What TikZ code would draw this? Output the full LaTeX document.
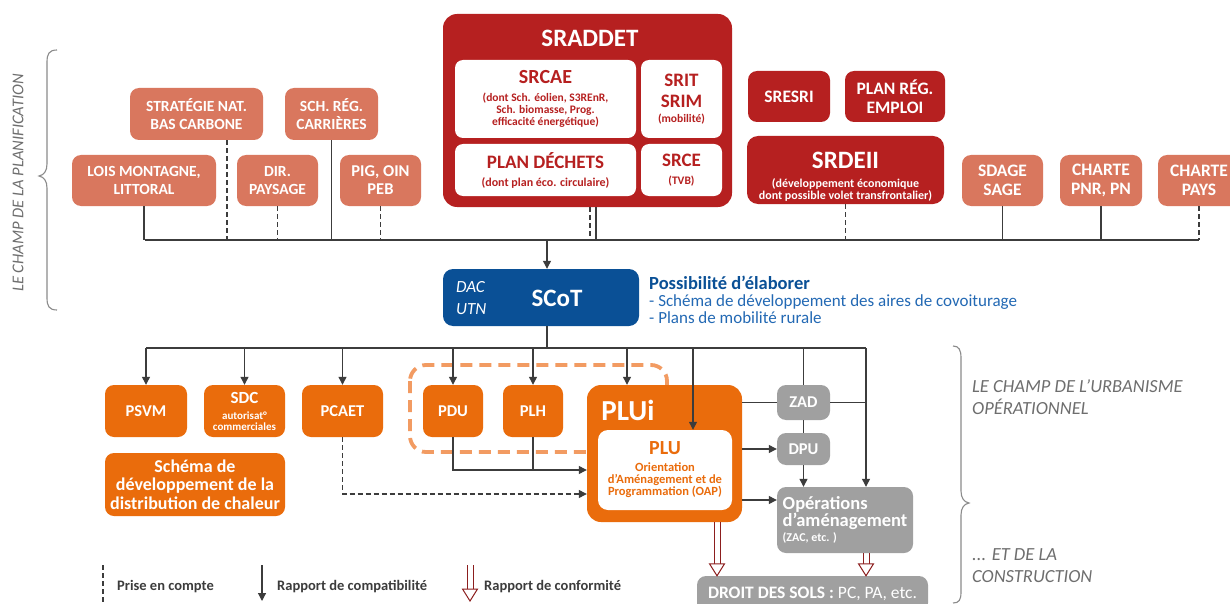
\documentclass[tikz,border=0pt]{standalone}
\usepackage{fontspec}
\setmainfont{Carlito}
\usetikzlibrary{arrows.meta,calc}
\definecolor{salmon}{RGB}{217,119,94}
\definecolor{dred}{RGB}{182,32,32}
\definecolor{sblue}{RGB}{10,80,150}
\definecolor{lblue}{RGB}{35,105,180}
\definecolor{orng}{RGB}{234,108,12}
\definecolor{lorng}{RGB}{242,155,98}
\definecolor{grayfill}{RGB}{160,160,160}
\definecolor{lnc}{RGB}{60,60,60}
\definecolor{confc}{RGB}{140,30,30}
\definecolor{txtg}{RGB}{110,110,110}
\newcommand\fs[2]{\fontsize{#1}{#2}\selectfont\lineskiplimit=-60pt\relax}
\newcommand\confarr[2]{%
  \draw[confline] ($(#1)+(-3,0)$) -- ($(#2)+(-3,-12)$) ($(#1)+(3,0)$) -- ($(#2)+(3,-12)$);
  \draw[confline, fill=white] ($(#2)+(-7.5,-12)$) -- (#2) -- ($(#2)+(7.5,-12)$) -- cycle;}
\tikzset{
  box/.style={rounded corners=9, inner sep=0, align=center, text=white, font=\bfseries},
  salbox/.style={box, fill=salmon, font={\bfseries\fs{15.5}{17.5}}},
  salboxb/.style={box, fill=salmon, font={\bfseries\fs{17.5}{19}}},
  redbox/.style={box, fill=dred},
  wbox/.style={box, fill=white, text=dred, rounded corners=8},
  orbox/.style={box, fill=orng, font={\bfseries\fs{16.5}{18}}},
  grbox/.style={box, fill=grayfill, font={\bfseries\fs{16.5}{18}}},
  ln/.style={draw=lnc, line width=1.2},
  dln/.style={ln, dash pattern=on 5pt off 3pt},
  arr/.style={ln, -{Triangle[length=8pt,width=8pt]}},
  darr/.style={arr, dash pattern=on 5pt off 3pt},
  confline/.style={draw=confc, line width=1},
  sidetxt/.style={text=txtg, font={\itshape\fs{18.5}{22}}, align=left, inner sep=0},
  legtxt/.style={text=lnc, font={\bfseries\fs{14.5}{16}}, anchor=west, inner sep=0},
}
\begin{document}
\begin{tikzpicture}[x=1pt,y=-1pt]
\useasboundingbox (0,0) rectangle (1230,604);
\clip (0,0) rectangle (1230,604);
\fill[white] (0,0) rectangle (1230,604);

% left brace and label
\draw[draw=txtg!80, line width=1.1] (57,50) .. controls (49,50) and (47,54) .. (47,62) -- (47,164)
  .. controls (47,171) and (44,175) .. (39,176) .. controls (44,177) and (47,181) .. (47,188)
  -- (47,298) .. controls (47,306) and (49,310) .. (57,310);
\node[sidetxt, rotate=90, font={\itshape\fs{16.5}{18}}] (lblplan) at (18,183) {LE CHAMP DE LA PLANIFICATION};

% top salmon boxes
\node[salbox, minimum width=133, minimum height=52] (snbc) at (196.5,114) {STRATÉGIE NAT.\\BAS CARBONE};
\node[salbox, minimum width=93, minimum height=52] (carr) at (331.5,114) {SCH. RÉG.\\CARRIÈRES};
\node[salbox, minimum width=144, minimum height=51] (lois) at (144,180.5) {LOIS MONTAGNE,\\LITTORAL};
\node[salbox, minimum width=81, minimum height=51] (dir) at (277.5,180.5) {DIR.\\PAYSAGE};
\node[salbox, font={\bfseries\fs{16.5}{18}}, minimum width=81, minimum height=51] (pig) at (380.5,180.5) {PIG, OIN\\PEB};
\node[salboxb, minimum width=81, minimum height=51] (sdage) at (1002.5,180.5) {SDAGE\\SAGE};
\node[salboxb, minimum width=82, minimum height=51] (pnr) at (1101,180.5) {CHARTE\\PNR, PN};
\node[salboxb, minimum width=82, minimum height=51] (pays) at (1199,180.5) {CHARTE\\PAYS};

% SRADDET
\node[redbox, rounded corners=14, minimum width=289, minimum height=193] (sraddet) at (587.5,110.5) {};
\node[text=white, font={\bfseries\fs{25}{27}}, inner sep=0] (sraddett) at (590,38) {SRADDET};
\node[wbox, font={\bfseries\fs{11.5}{12}}, minimum width=181, minimum height=78] (srcae) at (545.5,99)
  {\fs{20}{12}SRCAE\\[6pt](dont Sch. éolien, S3REnR,\\Sch. biomasse, Prog.\\efficacité énergétique)};
\node[wbox, font={\bfseries\fs{19}{18}}, minimum width=81, minimum height=78] (srit) at (681.5,99)
  {SRIT\\[3pt]SRIM\\[-3pt]\fs{11.5}{18}(mobilité)};
\node[wbox, font={\bfseries\fs{19}{18}}, minimum width=181, minimum height=52] (dechets) at (545.5,170)
  {PLAN DÉCHETS\\\fs{12}{18}(dont plan éco. circulaire)};
\node[wbox, font={\bfseries\fs{19}{18}}, minimum width=81, minimum height=52] (srce) at (681.5,170)
  {SRCE\\\fs{11.5}{18}(TVB)};

% other red boxes
\node[redbox, font={\bfseries\fs{17.5}{19}}, minimum width=82, minimum height=51] (sresri) at (789,96.5) {SRESRI};
\node[redbox, font={\bfseries\fs{17.5}{19}}, minimum width=100, minimum height=51] (emploi) at (895,96.5) {PLAN RÉG.\\EMPLOI};
\node[redbox, font={\bfseries\fs{12}{12}}, rounded corners=11, minimum width=197, minimum height=68] (srdeii) at (845.5,170)
  {\rule{0pt}{30pt}\fs{25}{12}SRDEII\\[7pt](développement économique\\dont possible volet transfrontalier)};

% top bus
\coordinate (busL) at (145,240);
\coordinate (busR) at (1199,240);
\draw[ln] (busL) -- (busR);
\draw[ln] (lois.south) -- (lois.south |- busL);
\coordinate (snbcd) at ([xshift=30.5]snbc.south);
\draw[dln] (snbcd) -- (snbcd |- busL);
\draw[dln] (dir.south) -- (dir.south |- busL);
\draw[ln] (carr.south) -- (carr.south |- busL);
\draw[dln] (pig.south) -- (pig.south |- busL);
\coordinate (srd1) at ([xshift=2.5]sraddet.south);
\coordinate (srd2) at ([xshift=8.5]sraddet.south);
\draw[dln] (srd1) -- (srd1 |- busL);
\draw[ln] (srd2) -- (srd2 |- busL);
\draw[dln] (srdeii.south) -- (srdeii.south |- busL);
\draw[ln] (sdage.south) -- (sdage.south |- busL);
\draw[ln] (pnr.south) -- (pnr.south |- busL);
\draw[dln] (pays.south) -- (pays.south |- busL);

% SCoT
\node[box, fill=sblue, rounded corners=10, minimum width=196, minimum height=57] (scot) at (541,297.5) {};
\node[text=white, font={\bfseries\fs{25}{27}}, inner sep=0] (scott) at (557,298) {SCoT};
\node[text=white, font={\itshape\fs{17}{22}}, align=left, anchor=west, inner sep=0] (dac) at (456,298) {DAC\\UTN};
\node[anchor=west, align=left, inner sep=0, text=lblue, font={\fs{17}{17}}] (poss) at (649,300)
  {{\bfseries\color{sblue}\fs{18.5}{17}Possibilité d’élaborer}\\- Schéma de développement des aires de covoiturage\\- Plans de mobilité rurale};
\coordinate (sc) at (547,240);
\draw[arr] (sc) -- (sc |- scot.north);

% lower boxes
\node[orbox, minimum width=82, minimum height=52] (psvm) at (146,411) {PSVM};
\node[orbox, font={\bfseries\fs{11}{11}}, minimum width=81, minimum height=52] (sdc) at (244.5,411) {\fs{17}{11}SDC\\[5pt]autorisat°\\commerciales};
\node[orbox, minimum width=81, minimum height=52] (pcaet) at (342.5,411) {PCAET};
\node[orbox, font={\bfseries\fs{18}{18.5}}, minimum width=180, minimum height=63] (chaleur) at (195,484.5) {Schéma de\\développement de la\\distribution de chaleur};
\draw[draw=lorng, line width=3.8, dash pattern=on 12pt off 7pt, rounded corners=16] (410,365) rectangle (667,452);
\node[orbox, minimum width=60, minimum height=52] (pdu) at (453,411) {PDU};
\node[orbox, minimum width=60, minimum height=52] (plh) at (533,411) {PLH};
\node[box, fill=orng, rounded corners=14, minimum width=155, minimum height=137] (plui) at (664.5,453.5) {};
\node[text=white, font={\bfseries\fs{29}{31}}, inner sep=0] (pluit) at (628,410) {PLUi};
\node[wbox, text=orng, font={\bfseries\fs{12.5}{12}}, rounded corners=10, minimum width=134, minimum height=80] (plu) at (665,470)
  {\fs{20}{12}PLU\\[5pt]Orientation\\d’Aménagement et de\\Programmation (OAP)};
\node[grbox, minimum width=53, minimum height=35] (zad) at (803.5,402.5) {ZAD};
\node[grbox, minimum width=53, minimum height=32] (dpu) at (803.5,449) {DPU};
\node[grbox, font={\bfseries\fs{18.5}{17}}, align=left, minimum width=136, minimum height=66] (oper) at (845,520)
  {Opérations\\d’aménagement\\[-2pt]\fs{12}{17}(ZAC, etc. )};
\node[grbox, font={\fs{17.5}{19}}, minimum width=231, minimum height=36] (droit) at (812.5,594)
  {\textbf{DROIT DES SOLS :} \mdseries PC, PA, etc.};

% second bus
\coordinate (b2L) at (146,348);
\coordinate (b2R) at (866,348);
\draw[ln] (sc |- scot.south) -- (sc |- b2L);
\draw[ln] (b2L) -- (b2R);
\draw[arr] (psvm.north |- b2L) -- (psvm.north);
\draw[arr] (sdc.north |- b2L) -- (sdc.north);
\draw[arr] (pcaet.north |- b2L) -- (pcaet.north);
\draw[arr] (pdu.north |- b2L) -- (pdu.north);
\draw[arr] (plh.north |- b2L) -- (plh.north);
\coordinate (pl1) at (627,348);
\coordinate (pl2) at (693,348);
\draw[arr] (pl1) -- (pl1 |- plui.north);
\draw[arr] (pl2) -- (pl2 |- plu.north);
\draw[ln] (zad.north |- b2L) -- (zad.north);
\draw[arr] (b2R) -- (b2R |- oper.north);

% PLUi links
\draw[ln] (plui.east |- zad.west) -- (zad.west);
\draw[ln] (zad.east) -- (zad.east -| b2R);
\draw[ln] (zad.south) -- (dpu.north);
\draw[arr] (plui.east |- dpu.west) -- (dpu.west);
\draw[arr] (dpu.south) -- (dpu.south |- oper.north);
\coordinate (ypo) at (0,500);
\draw[arr] (plui.east |- ypo) -- (ypo -| oper.west);
\coordinate (ymg) at (0,470);
\draw[ln] (pdu.south) |- (ymg -| plh.south);
\draw[arr] (plh.south) |- (ymg -| plui.west);
\coordinate (ypc) at (0,494);
\draw[darr] (pcaet.south) |- (ypc -| plui.west);

% conformity
\coordinate (cfx1) at (717,0);
\path (cfx1 |- plui.south) coordinate (cf1a) (cfx1 |- droit.north) coordinate (cf1b);
\confarr{cf1a}{cf1b}
\path (b2R |- oper.south) coordinate (cf2a) (b2R |- droit.north) coordinate (cf2b);
\confarr{cf2a}{cf2b}

% right brace and labels
\draw[draw=txtg!80, line width=1.1] (953,346) .. controls (959,346) and (961,350) .. (961,358) -- (961,491)
  .. controls (961,498) and (964,502) .. (969,503) .. controls (964,504) and (961,508) .. (961,515)
  -- (961,592) .. controls (961,600) and (959,603) .. (953,603);
\node[sidetxt, anchor=west] (urb) at (972,397) {LE CHAMP DE L’URBANISME\\OPÉRATIONNEL};
\node[sidetxt, anchor=west] (cons) at (972,566) {... ET DE LA\\CONSTRUCTION};

% legend
\coordinate (lg1a) at (103,565); \coordinate (lg1b) at (103,604);
\draw[dln] (lg1a) -- (lg1b);
\node[legtxt] (lgt1) at (117,587) {Prise en compte};
\coordinate (lg2a) at (262,565); \coordinate (lg2b) at (262,601);
\draw[arr] (lg2a) -- (lg2b);
\node[legtxt] (lgt2) at (277,587) {Rapport de compatibilité};
\coordinate (lg3a) at (470,565); \coordinate (lg3b) at (470,601);
\confarr{lg3a}{lg3b}
\node[legtxt] (lgt3) at (484,587) {Rapport de conformité};
\end{tikzpicture}
\end{document}
